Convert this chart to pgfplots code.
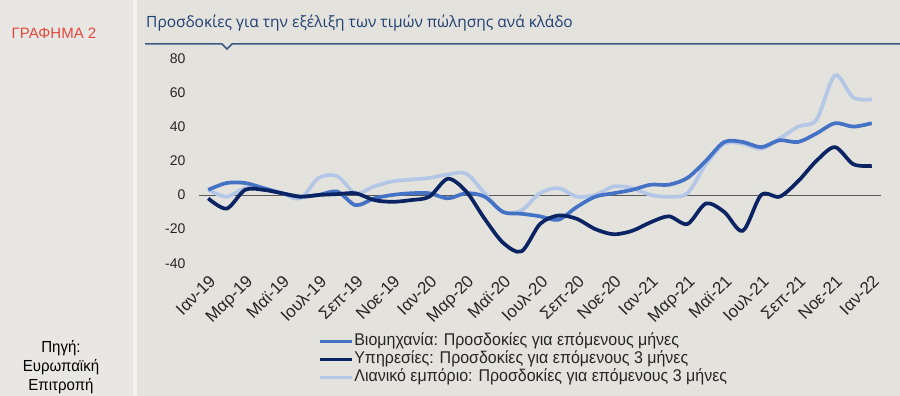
\documentclass[border=0pt]{standalone}
\usepackage{fontspec}
\usepackage{pgfplots}
\usepackage{pgfplotstable}
\pgfplotsset{compat=1.18}
\setmainfont{Liberation Sans}
\newfontfamily\titlefont{Open Sans}
\newfontfamily\narrowfont{Liberation Sans}[FakeStretch=0.94]
\definecolor{ind}{HTML}{4472C4}
\definecolor{srv}{HTML}{0A2463}
\definecolor{ret}{HTML}{B4C7E7}
\definecolor{bgmain}{HTML}{E4E2DD}
\definecolor{bgleft}{HTML}{E8E7E3}
\definecolor{gapc}{HTML}{F3F2EF}
\definecolor{titleblue}{HTML}{1F3F73}
\definecolor{rulec}{HTML}{3B5B85}
\definecolor{redlabel}{HTML}{E2493D}

\pgfplotstableread{
i ind srv ret
0 3 -2 3
1 7 -8 -1
2 7 3 4
3 4 3 4
4 1 1 1
5 -1 -1 -2
6 0 0 10
7 2 0.5 11
8 -6 1 1
9 -2 -3 5
10 0 -4 8
11 1 -3 9
12 1 -1 10
13 -2 9.5 12
14 1 2 12.5
15 -1 -14 1
16 -10 -28 -10
17 -11 -33 -9
18 -12.5 -17 1
19 -14.5 -12 4
20 -7 -14 -1
21 -1 -20 0
22 1 -23 5
23 3 -21 4
24 6 -16 0
25 6 -12.5 -1
26 10 -17 1
27 20 -5 18
28 31 -10 30
29 31 -21 30
30 28 0 27
31 32 -1 33
32 31 8 40
33 36 20 44
34 42 28 70
35 40 18 57
36 42 17 56
}\data

\begin{document}
\begin{tikzpicture}
\path[use as bounding box] (0pt,0pt) rectangle (900pt,396pt);
\fill[gapc] (0pt,0pt) rectangle (900pt,396pt);
\fill[bgleft] (0pt,0pt) rectangle (133pt,396pt);
\fill[bgmain] (137pt,0pt) rectangle (900pt,396pt);
\node[anchor=base west, text=titleblue, font=\titlefont\fontsize{15.5}{18}\selectfont, inner sep=0pt] at (146pt,368pt) {Προσδοκίες για την εξέλιξη των τιμών πώλησης ανά κλάδο};
\draw[rulec, line width=1.5pt] (145pt,352pt) -- (222pt,352pt) -- (227pt,347pt) -- (232pt,352pt) -- (900pt,352pt);
\node[text=redlabel, font=\fontsize{15}{17}\selectfont] at (54pt,363pt) {ΓΡΑΦΗΜΑ 2};
\node[align=center, font=\narrowfont\fontsize{16}{19}\selectfont] at (61pt,29pt) {Πηγή:\\Ευρωπαϊκή\\Επιτροπή};

\begin{axis}[
  at={(199pt,132.7pt)}, anchor=south west, scale only axis,
  width=682pt, height=205pt,
  xmin=-0.5, xmax=36.5, ymin=-40, ymax=80,
  axis line style={draw=none},
  major tick length=0pt,
  ytick={-40,-20,0,20,40,60,80},
  xtick={0,2,...,36},
  xticklabels={Ιαν-19,Μαρ-19,Μαϊ-19,Ιουλ-19,Σεπ-19,Νοε-19,Ιαν-20,Μαρ-20,Μαϊ-20,Ιουλ-20,Σεπ-20,Νοε-20,Ιαν-21,Μαρ-21,Μαϊ-21,Ιουλ-21,Σεπ-21,Νοε-21,Ιαν-22},
  tick label style={text=black!85},
  /pgf/number format/assume math mode=true,
  yticklabel style={anchor=east, xshift=-10pt, font=\fontsize{14}{16}\selectfont},
  xticklabel style={rotate=45, anchor=north east, xshift=-4pt, yshift=-4pt, font=\fontsize{17}{19}\selectfont},
  legend style={at={(0.17,-0.33)}, anchor=north west, draw=none, fill=none,
    font=\narrowfont\fontsize{17}{19}\selectfont, row sep=1.5pt, text=black!85,
    nodes={inner sep=0.5pt, text height=12pt, text depth=3.5pt}},
  legend cell align=left,
  legend image code/.code={\draw[#1] (0pt,0pt) -- (32pt,0pt);},
  clip=false,
]
\addplot[gray!70!black, line width=0.8pt, forget plot] coordinates {(-0.5,0) (36.5,0)};
\addplot[ret, line width=3.7pt, smooth, forget plot] table[x=i, y=ret] {\data};
\addplot[ind, line width=3.7pt, smooth, forget plot] table[x=i, y=ind] {\data};
\addplot[srv, line width=3.7pt, smooth, forget plot] table[x=i, y=srv] {\data};
\addlegendimage{ind, line width=3.7pt}
\addlegendentry{Βιομηχανία: Προσδοκίες για επόμενους μήνες}
\addlegendimage{srv, line width=3.7pt}
\addlegendentry{Υπηρεσίες: Προσδοκίες για επόμενους 3 μήνες}
\addlegendimage{ret, line width=3.7pt}
\addlegendentry{Λιανικό εμπόριο: Προσδοκίες για επόμενους 3 μήνες}
\end{axis}
\end{tikzpicture}
\end{document}
